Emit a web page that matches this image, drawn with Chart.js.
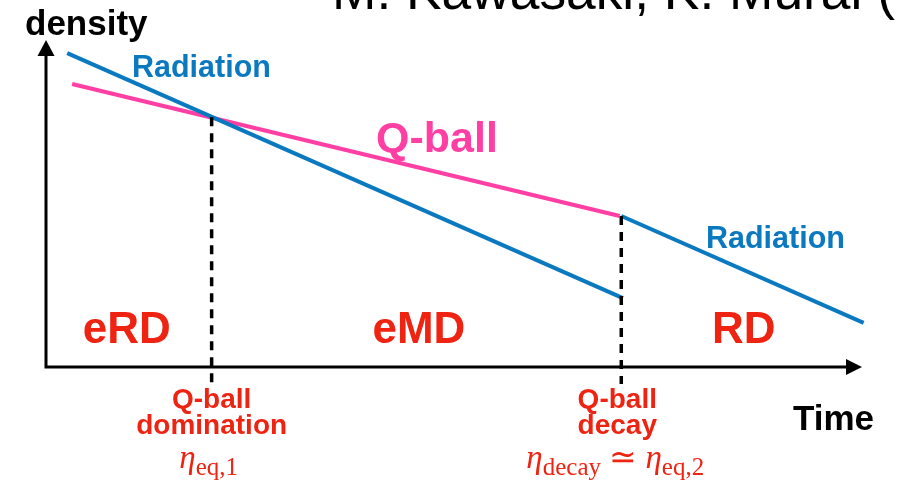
<!DOCTYPE html>
<html lang="en">
<head>
    <meta charset="UTF-8">
    <title>Q-ball domination sketch</title>
    <script src="https://cdn.jsdelivr.net/npm/chart.js"></script>
    <style>
        body {
            margin: 0;
            background: #fff;
        }
        #sketch {
            display: block;
        }
    </style>
</head>
<body>

<canvas id="sketch" width="897" height="489"></canvas>

<script>
    // time axis runs 0..100, log density axis runs 0..100 (schematic units)
    const radiationEarlyT = [2.6, 70.7];
    const radiationEarlyRho = [97.5, 21.4];
    const qballT = [3.2, 70.3];
    const qballRho = [87.9, 46.9];
    const radiationLateT = [70.5, 100.2];
    const radiationLateRho = [46.9, 13.7];

    // eta_eq,1 and eta_decay
    const eventT = [20.3, 70.5];
    const eventRho = [77.6, 46.9];
    const eventBottom = -5.3;
    const eventLabels = [['Q-ball', 'domination'], ['Q-ball', 'decay']];

    const regionLabels = ['eRD', 'eMD', 'RD'];
    const regionT = [9.9, 45.7, 85.5];

    const BLUE = '#0b79c0';
    const PINK = '#ff3fa4';
    const RED = '#ee2311';
    const SANS = '"Liberation Sans", Arial, sans-serif';
    const SERIF = '"Liberation Serif", "Times New Roman", serif';

    function pts(xs, ys) {
        return xs.map((x, i) => ({ x: x, y: ys[i] }));
    }

    function drawEta(ctx, cx, baseline, parts) {
        // parts: [text, kind] kind = 'eta' | 'sub' | 'rel'
        const fontFor = k => k === 'eta' ? 'italic 33px ' + SERIF : (k === 'sub' ? '25px ' + SERIF : '33px ' + SERIF);
        let total = 0;
        parts.forEach(p => { ctx.font = fontFor(p[1]); total += ctx.measureText(p[0]).width; });
        let x = cx - total / 2;
        ctx.textAlign = 'left';
        ctx.textBaseline = 'alphabetic';
        parts.forEach(p => {
            ctx.font = fontFor(p[1]);
            ctx.fillText(p[0], x, p[1] === 'sub' ? baseline + 7 : baseline);
            x += ctx.measureText(p[0]).width;
        });
    }

    const annotations = {
        id: 'annotations',
        afterDatasetsDraw(chart) {
            const ctx = chart.ctx;
            const xs = chart.scales.x;
            const ys = chart.scales.y;
            const x0 = xs.getPixelForValue(0);
            const y0 = ys.getPixelForValue(0);
            const xEnd = xs.getPixelForValue(100);
            const yEnd = ys.getPixelForValue(100);

            ctx.save();
            // axes
            ctx.strokeStyle = '#000';
            ctx.fillStyle = '#000';
            ctx.lineWidth = 3;
            ctx.beginPath();
            ctx.moveTo(x0, y0 + 1.5);
            ctx.lineTo(x0, yEnd + 10);
            ctx.moveTo(x0 - 1.5, y0);
            ctx.lineTo(xEnd - 14, y0);
            ctx.stroke();
            ctx.beginPath();
            ctx.moveTo(x0, yEnd - 5);
            ctx.lineTo(x0 - 8.5, yEnd + 11);
            ctx.lineTo(x0 + 8.5, yEnd + 11);
            ctx.closePath();
            ctx.fill();
            ctx.beginPath();
            ctx.moveTo(xEnd, y0);
            ctx.lineTo(xEnd - 16, y0 - 8);
            ctx.lineTo(xEnd - 16, y0 + 8);
            ctx.closePath();
            ctx.fill();

            // top citation, cut off by the canvas edge
            ctx.font = '100px ' + SANS;
            const cite = 'M. Kawasaki, K. Murai (';
            const size = 100 * 563 / ctx.measureText(cite).width;
            ctx.font = size + 'px ' + SANS;
            ctx.textAlign = 'left';
            ctx.textBaseline = 'alphabetic';
            ctx.fillText(cite + '2019)', 332, 9);

            // axis titles
            ctx.font = 'bold 35px ' + SANS;
            ctx.fillText('density', 25, 35);
            ctx.fillText('Time', 793, 430);

            // curve labels
            ctx.fillStyle = BLUE;
            ctx.font = 'bold 30.5px ' + SANS;
            ctx.fillText('Radiation', 132, 77);
            ctx.fillText('Radiation', 706, 248);
            ctx.fillStyle = PINK;
            ctx.font = 'bold 43px ' + SANS;
            ctx.fillText('Q-ball', 376, 152);

            // era labels
            ctx.fillStyle = RED;
            ctx.textAlign = 'center';
            ctx.font = 'bold 44px ' + SANS;
            regionLabels.forEach((lab, i) => {
                ctx.fillText(lab, xs.getPixelForValue(regionT[i]), 343);
            });

            // event labels under the axis
            ctx.font = 'bold 28px ' + SANS;
            eventLabels.forEach((lines, i) => {
                const px = xs.getPixelForValue(eventT[i]) - (i === 1 ? 4 : 0);
                lines.forEach((ln, j) => ctx.fillText(ln, px, 408 + j * 26));
            });

            drawEta(ctx, xs.getPixelForValue(eventT[0]) - 3, 468, [['η', 'eta'], ['eq,1', 'sub']]);
            drawEta(ctx, xs.getPixelForValue(eventT[1]) - 6, 468,
                [['η', 'eta'], ['decay', 'sub'], [' ≃ ', 'rel'], ['η', 'eta'], ['eq,2', 'sub']]);
            ctx.restore();
        }
    };

    const lineStyle = { borderWidth: 4, pointRadius: 0, fill: false, clip: false, borderCapStyle: 'butt' };
    const dashStyle = { borderWidth: 3.5, pointRadius: 0, fill: false, clip: false, borderColor: '#000',
        borderDash: [9, 7], borderCapStyle: 'butt' };

    new Chart(document.getElementById('sketch').getContext('2d'), {
        type: 'line',
        data: {
            datasets: [
                Object.assign({ label: 'eta_eq1', data: pts([eventT[0], eventT[0]], [eventRho[0], eventBottom]) }, dashStyle),
                Object.assign({ label: 'eta_decay', data: pts([eventT[1], eventT[1]], [eventRho[1], eventBottom]) }, dashStyle),
                Object.assign({ label: 'Radiation', data: pts(radiationEarlyT, radiationEarlyRho), borderColor: BLUE }, lineStyle),
                Object.assign({ label: 'Q-ball', data: pts(qballT, qballRho), borderColor: PINK }, lineStyle),
                Object.assign({ label: 'Radiation (late)', data: pts(radiationLateT, radiationLateRho), borderColor: BLUE }, lineStyle)
            ]
        },
        options: {
            responsive: false,
            animation: false,
            devicePixelRatio: 1,
            layout: { padding: { left: 46, right: 35, top: 45, bottom: 122 } },
            scales: {
                x: { type: 'linear', min: 0, max: 100, display: false },
                y: { type: 'linear', min: 0, max: 100, display: false }
            },
            plugins: {
                legend: { display: false },
                tooltip: { enabled: false }
            }
        },
        plugins: [annotations]
    });
</script>

</body>
</html>
